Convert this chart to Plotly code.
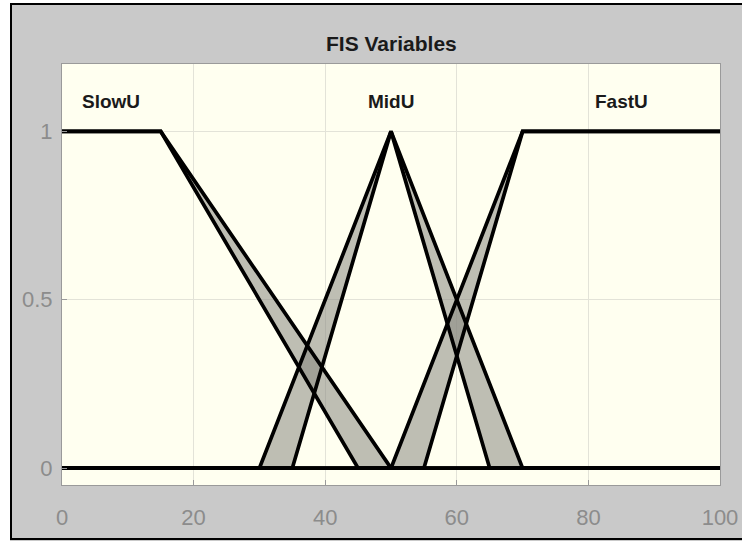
import plotly.graph_objects as go

# Membership function names
mf_names = ["SlowU", "MidU", "FastU"]

# Upper membership function breakpoints
slow_upper_x = [0, 15, 50, 100]
slow_upper_y = [1, 1, 0, 0]
mid_upper_x = [0, 30, 50, 70, 100]
mid_upper_y = [0, 0, 1, 0, 0]
fast_upper_x = [0, 50, 70, 100]
fast_upper_y = [0, 0, 1, 1]

# Lower membership function breakpoints
slow_lower_x = [0, 15, 45, 100]
slow_lower_y = [1, 1, 0, 0]
mid_lower_x = [0, 35, 50, 65, 100]
mid_lower_y = [0, 0, 1, 0, 0]
fast_lower_x = [0, 55, 70, 100]
fast_lower_y = [0, 0, 1, 1]

x_ticks = [0, 20, 40, 60, 80, 100]
y_ticks = [0, 0.5, 1]
y_tick_labels = ["0", "0.5", "1"]

uppers = [(slow_upper_x, slow_upper_y), (mid_upper_x, mid_upper_y), (fast_upper_x, fast_upper_y)]
lowers = [(slow_lower_x, slow_lower_y), (mid_lower_x, mid_lower_y), (fast_lower_x, fast_lower_y)]

FONT = "Liberation Sans, Arial, sans-serif"

fig = go.Figure()

# Footprint of uncertainty (fill between upper and lower MFs)
for (ux, uy), (lx, ly) in zip(uppers, lowers):
    fig.add_trace(go.Scatter(
        x=list(ux) + list(lx)[::-1],
        y=list(uy) + list(ly)[::-1],
        fill="toself", mode="none",
        fillcolor="rgba(134,134,128,0.54)",
        hoverinfo="skip", showlegend=False,
    ))

# Upper and lower MF lines
for (ux, uy), (lx, ly) in zip(uppers, lowers):
    for xs, ys in ((ux, uy), (lx, ly)):
        fig.add_trace(go.Scatter(
            x=xs, y=ys, mode="lines",
            line=dict(color="black", width=3.7),
            showlegend=False,
        ))

# MF labels centered over the plateau/peak of the upper MF
for name, (ux, uy) in zip(mf_names, uppers):
    top = [x for x, y in zip(ux, uy) if y == 1]
    fig.add_annotation(
        x=sum(top) / len(top), y=1.09, text="<b>" + name + "</b>",
        showarrow=False, xref="x", yref="y",
        font=dict(family=FONT, size=19, color="#1a1a1a"),
        xanchor="center", yanchor="middle",
    )

# Figure geometry in page pixels
W, H = 742, 541
L, R, T, B = 62, 22, 64, 56
pw, ph = W - L - R, H - T - B

def px(xp):
    return (xp - L) / pw

def py(yp):
    return (H - B - yp) / ph

# Title
fig.add_annotation(
    x=0.5, y=py(43.5), xref="paper", yref="paper",
    text="<b>FIS Variables</b>", showarrow=False,
    font=dict(family=FONT, size=21, color="#1a1a1a"),
    xanchor="center", yanchor="middle",
)

# White page margin outside the figure frame
fig.add_shape(type="rect", xref="paper", yref="paper",
              x0=px(-2), x1=px(10), y0=py(H + 2), y1=py(-2),
              fillcolor="white", line=dict(width=0), layer="below")
fig.add_shape(type="rect", xref="paper", yref="paper",
              x0=px(-2), x1=px(W + 2), y0=py(3), y1=py(-2),
              fillcolor="white", line=dict(width=0), layer="below")

# Figure border (left, top, bottom)
border = dict(color="black", width=2)
fig.add_shape(type="line", xref="paper", yref="paper",
              x0=px(11), x1=px(11), y0=py(539), y1=py(4), line=border)
fig.add_shape(type="line", xref="paper", yref="paper",
              x0=px(10), x1=px(W + 2), y0=py(4), y1=py(4), line=border)
fig.add_shape(type="line", xref="paper", yref="paper",
              x0=px(10), x1=px(W + 2), y0=py(539), y1=py(539), line=border)

axis_common = dict(
    showgrid=True, gridcolor="#e3e3d8", gridwidth=1,
    showline=True, linecolor="#9a9a9a", linewidth=1, mirror=True,
    ticks="inside", ticklen=5, tickcolor="#9a9a9a",
    zeroline=False, automargin=False,
    tickfont=dict(family=FONT, size=22, color="#8c8c8c"),
)

fig.update_xaxes(range=[0, 100], tickvals=x_ticks, ticklabelstandoff=13, **axis_common)
fig.update_yaxes(range=[-0.05, 1.2], tickvals=y_ticks, ticktext=y_tick_labels,
                 ticklabelstandoff=4, **axis_common)

fig.update_layout(
    width=W, height=H,
    margin=dict(l=L, r=R, t=T, b=B, autoexpand=False),
    paper_bgcolor="#c9c9c9",
    plot_bgcolor="#fffff0",
    showlegend=False,
)

fig.write_html(
    "out.html",
    config={"displayModeBar": False},
    post_script="document.body.style.margin='0';document.body.style.overflow='hidden';",
)
